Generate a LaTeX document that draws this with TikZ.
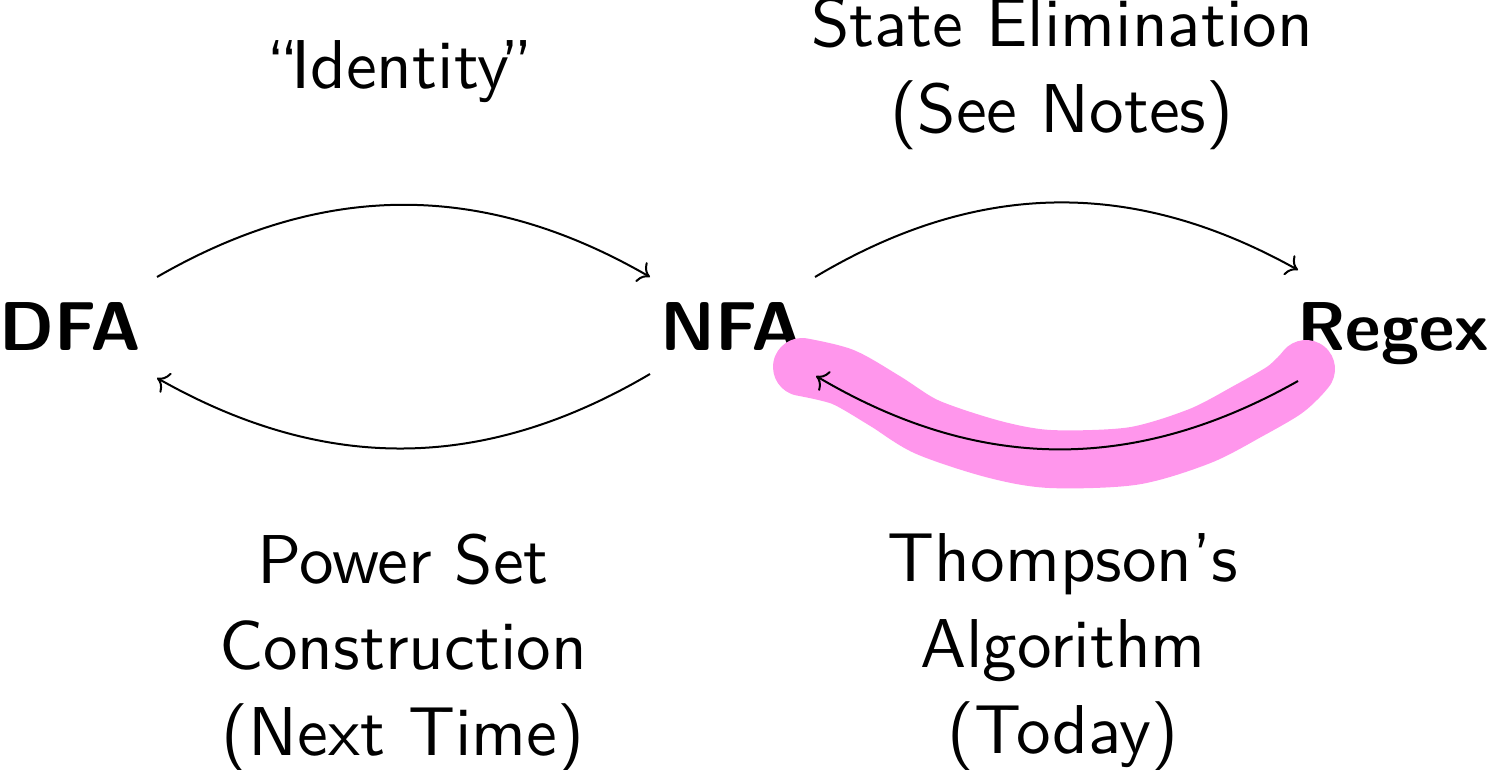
\documentclass[tikz,border=0pt]{standalone}
\usepackage{fontspec}
\setsansfont{lmsans10-regular.otf}[BoldFont=lmsans10-bold.otf]
\usepackage{tikz}
\usetikzlibrary{positioning}
\usetikzlibrary{calc}
\usetikzlibrary{arrows.meta}

\definecolor{hilite}{RGB}{255,150,236}

\begin{document}
\begin{tikzpicture}[
		x=0.25pt, y=-0.25pt,
		every node/.style = {
			inner sep=0pt,
			align=center,
			font=\fontsize{17.28}{21.5}\selectfont\sffamily
		},
		model/.style={anchor=base, font=\fontsize{17.28}{21.5}\selectfont\sffamily\bfseries},
		note/.style={anchor=north},
		conv/.style={->, line width=0.5pt, bend left=30},
		marker/.style={hilite, line width=14.5pt, line cap=round, line join=round}
		]
		\useasboundingbox (0,0) rectangle (1487,770);
		% the three models
		\node[model] (dfa) at (70,350) {DFA};
		\node[model] (nfa) at (731,350) {NFA};
		\node[model] (regex) at (1393,350) {Regex};
		% highlight under the Thompson arrow
		\draw[marker] plot[smooth, tension=0.5] coordinates {(802,367) (843,377) (885,401) (927,427) (993,449) (1050,459) (1133,456) (1200,436) (1250,410) (1283,391) (1298,378) (1306,369)};
		% conversions
		\draw[conv] ($(dfa.base)+(87,-73)$) to ($(nfa.base)+(-81,-73)$);
		\draw[conv] ($(nfa.base)+(-81,24)$) to ($(dfa.base)+(87,28)$);
		\draw[conv] ($(nfa.base)+(84,-73)$) to ($(regex.base)+(-95,-80)$);
		\draw[conv] ($(regex.base)+(-95,31)$) to ($(nfa.base)+(85,26)$);
		% labels
		\node[note] (ident) at (400,40) {``\kern-.12em Identity\kern-.12em''};
		\node[note] (elim) at (1062,-4) {State Elimination\\(See Notes)};
		\node[note] (power) at (403,533) {Power Set\\Construction\\(Next Time)};
		\node[note] (thompson) at (1063,533) {Thompson's\\Algorithm\\(Today)};
	\end{tikzpicture}
\end{document}
